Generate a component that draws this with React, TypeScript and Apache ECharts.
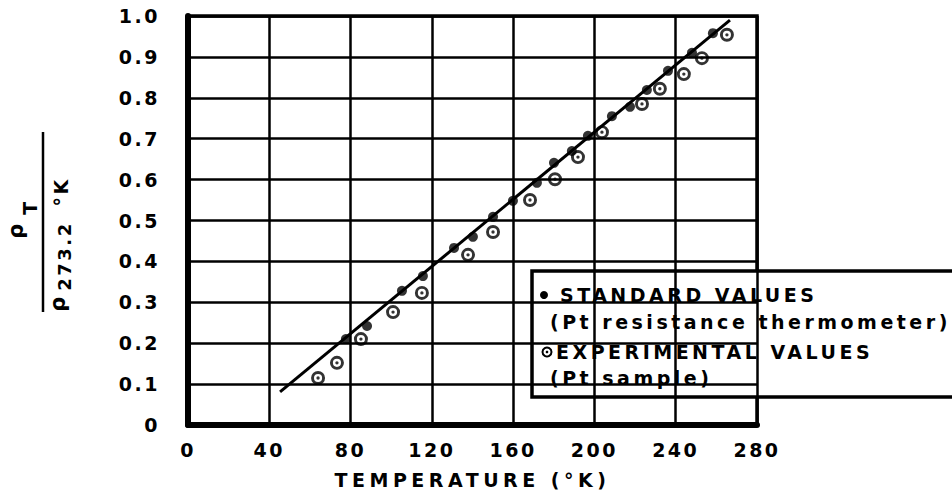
import React, { useEffect, useRef } from "react";
import * as echarts from "echarts";

// Standard values (Pt resistance thermometer): temperature (°K) and rho_T / rho_273.2
const stdT = [77.7, 88.1, 105.3, 115.6, 130.9, 140.2, 150.1, 159.9, 171.7, 180.1, 188.9, 196.8, 208.6, 217.5, 225.8, 236.2, 248.0, 258.3];
const stdR = [0.21, 0.242, 0.328, 0.364, 0.433, 0.46, 0.509, 0.548, 0.592, 0.641, 0.67, 0.707, 0.755, 0.778, 0.819, 0.866, 0.91, 0.958];

// Experimental values (Pt sample)
const expT = [64.0, 73.3, 85.1, 100.9, 115.1, 137.8, 150.1, 168.3, 180.6, 191.9, 203.7, 223.4, 232.2, 244.0, 252.9, 265.2];
const expR = [0.115, 0.152, 0.21, 0.276, 0.323, 0.416, 0.472, 0.55, 0.601, 0.655, 0.716, 0.785, 0.822, 0.858, 0.897, 0.954];

// Straight reference line endpoints
const lineT = [45.3, 266.7];
const lineR = [0.081, 0.99];

// Tick labels
const yTickLabels = ["0", "0.1", "0.2", "0.3", "0.4", "0.5", "0.6", "0.7", "0.8", "0.9", "1.0"];
const xTickLabels = ["0", "40", "80", "120", "160", "200", "240", "280"];

const legendLines = [
  "STANDARD VALUES",
  "(Pt resistance thermometer)",
  "EXPERIMENTAL VALUES",
  "(Pt sample)",
];
const xTitle = "TEMPERATURE (°K)";

const FONT = '"DejaVu Sans", sans-serif';
const ringPath =
  "path://M10,0 A10,10 0 1,1 10,20 A10,10 0 1,1 10,0 Z M10,4.2 A5.8,5.8 0 1,0 10,15.8 A5.8,5.8 0 1,0 10,4.2 Z M10,7.6 A2.4,2.4 0 1,1 10,12.4 A2.4,2.4 0 1,1 10,7.6 Z";

function spacingFor(t: string): number {
  if (t === xTitle) return 4.5;
  if (legendLines.includes(t)) return 3.5;
  if (t === "273.2" || t === "°K") return 2.5;
  return 2.5;
}

export default function App() {
  const ref = useRef<HTMLDivElement>(null);
  useEffect(() => {
    if (!ref.current) return;
    const el = ref.current;
    const chart = echarts.init(el, null, { renderer: "svg" });
    const labelStyle = {
      color: "#000",
      fontSize: 19,
      fontWeight: "bold" as const,
      fontFamily: FONT,
    };
    const option: any = {
      animation: false,
      backgroundColor: "#fff",
      grid: {
        left: 188,
        right: 195,
        top: 16,
        bottom: 72,
        show: true,
        borderColor: "#000",
        borderWidth: 3.5,
        backgroundColor: "transparent",
      },
      xAxis: {
        type: "value",
        min: 0,
        max: 280,
        interval: 40,
        name: xTitle,
        nameLocation: "middle",
        nameGap: 45,
        nameTextStyle: { ...labelStyle },
        axisLine: { show: true, onZero: false, lineStyle: { color: "#000", width: 6 } },
        axisTick: { show: false },
        splitLine: { show: true, lineStyle: { color: "#000", width: 2.5 } },
        axisLabel: {
          ...labelStyle,
          margin: 15,
          formatter: (v: number) => xTickLabels[Math.round(v / 40)] ?? String(v),
        },
      },
      yAxis: {
        type: "value",
        min: 0,
        max: 1,
        interval: 0.1,
        axisLine: { show: true, onZero: false, lineStyle: { color: "#000", width: 6 } },
        axisTick: { show: false },
        splitLine: { show: true, lineStyle: { color: "#000", width: 2.5 } },
        axisLabel: {
          ...labelStyle,
          margin: 28,
          formatter: (v: number) => yTickLabels[Math.round(v * 10)] ?? String(v),
        },
      },
      series: [
        {
          type: "line",
          name: "line",
          data: lineT.map((t, i) => [t, lineR[i]]),
          showSymbol: false,
          lineStyle: { color: "#000", width: 3 },
          z: 3,
        },
        {
          type: "scatter",
          name: "STANDARD VALUES",
          data: stdT.map((t, i) => [t, stdR[i]]),
          symbol: "circle",
          symbolSize: 10,
          itemStyle: { color: "#000" },
          z: 4,
        },
        {
          type: "scatter",
          name: "EXPERIMENTAL VALUES",
          data: expT.map((t, i) => [t, expR[i]]),
          symbol: ringPath,
          symbolSize: 14,
          itemStyle: { color: "#000" },
          z: 4,
        },
      ],
      graphic: [
        // y-axis title: rho_T / rho_273.2 °K, rotated
        {
          type: "group",
          x: 43,
          y: 222,
          rotation: Math.PI / 2,
          children: [
            {
              type: "line",
              shape: { x1: -90, y1: 0, x2: 90, y2: 0 },
              style: { stroke: "#000", lineWidth: 2.5 },
            },
            {
              type: "text",
              x: -8,
              y: -27,
              style: { text: "ρ", font: `bold 21px ${FONT}`, fill: "#000", align: "center", verticalAlign: "middle" },
            },
            {
              type: "text",
              x: 15,
              y: -13,
              style: { text: "T", font: `bold 19px ${FONT}`, fill: "#000", align: "center", verticalAlign: "middle" },
            },
            {
              type: "text",
              x: -81,
              y: 15,
              style: { text: "ρ", font: `bold 21px ${FONT}`, fill: "#000", align: "center", verticalAlign: "middle" },
            },
            {
              type: "text",
              x: -34,
              y: 21,
              style: { text: "273.2", font: `bold 18px ${FONT}`, fill: "#000", align: "center", verticalAlign: "middle" },
            },
            {
              type: "text",
              x: 30,
              y: 18,
              style: { text: "°K", font: `bold 19px ${FONT}`, fill: "#000", align: "center", verticalAlign: "middle" },
            },
          ],
        },
        // legend box
        {
          type: "group",
          z: 100,
          children: [
            {
              type: "rect",
              shape: { x: 532, y: 271, width: 440, height: 126 },
              style: { fill: "#fff", stroke: "#000", lineWidth: 3.5 },
            },
            {
              type: "circle",
              shape: { cx: 544, cy: 295, r: 4 },
              style: { fill: "#000" },
            },
            {
              type: "text",
              x: 560,
              y: 295,
              style: { text: legendLines[0], font: `bold 19px ${FONT}`, fill: "#000", verticalAlign: "middle" },
            },
            {
              type: "text",
              x: 550,
              y: 322,
              style: { text: legendLines[1], font: `bold 19px ${FONT}`, fill: "#000", verticalAlign: "middle" },
            },
            {
              type: "circle",
              shape: { cx: 547, cy: 352, r: 4.5 },
              style: { fill: "#fff", stroke: "#000", lineWidth: 2 },
            },
            {
              type: "circle",
              shape: { cx: 547, cy: 352, r: 1.3 },
              style: { fill: "#000" },
            },
            {
              type: "text",
              x: 556,
              y: 352,
              style: { text: legendLines[2], font: `bold 19px ${FONT}`, fill: "#000", verticalAlign: "middle" },
            },
            {
              type: "text",
              x: 550,
              y: 378,
              style: { text: legendLines[3], font: `bold 19px ${FONT}`, fill: "#000", verticalAlign: "middle" },
            },
          ],
        },
      ],
    };
    const applySpacing = () => {
      el.querySelectorAll("text").forEach((node) => {
        const t = node.textContent || "";
        node.setAttribute("letter-spacing", String(spacingFor(t)));
      });
    };
    chart.on("finished", applySpacing);
    chart.setOption(option);
    (chart as any).getZr().flush();
    applySpacing();
    return () => chart.dispose();
  }, []);
  return (
    <div
      ref={ref}
      style={{ position: "fixed", left: 0, top: 0, width: 952, height: 497, background: "#fff" }}
    />
  );
}
